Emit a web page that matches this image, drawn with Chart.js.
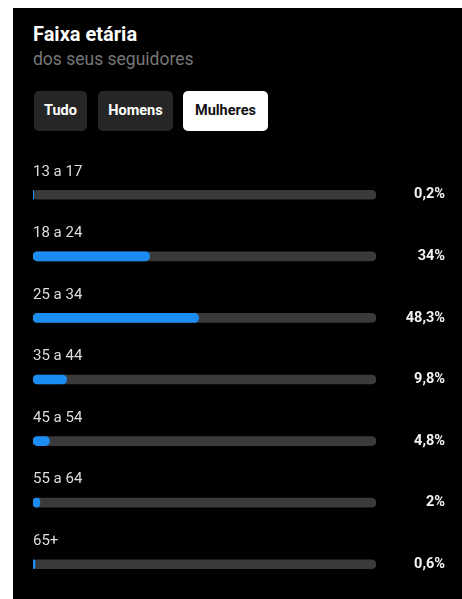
<!DOCTYPE html>
<html>
<head>
<meta charset="utf-8">
<script src="https://cdn.jsdelivr.net/npm/chart.js@4"></script>
<style>
  body { margin: 0; background: #fff; font-family: Roboto, "Noto Sans", sans-serif; }
  #panel { position: absolute; left: 13px; top: 8px; width: 449px; height: 591px; background: #000; }
  #title { position: absolute; left: 20px; top: 16px; line-height: 20px; color: #fff; font-size: 20px; font-weight: 700; }
  #sub { position: absolute; left: 20px; top: 42px; line-height: 18px; color: #777; font-size: 17.5px; }
  .btn { position: absolute; top: 83px; height: 40px; line-height: 40px; border-radius: 5px;
         background: #262626; color: #fff; font-size: 14.5px; font-weight: 700; text-align: center; }
  #wrap { position: absolute; left: 0; top: 142px; width: 449px; height: 449px; }
</style>
</head>
<body>
<div id="panel">
  <div id="title">Faixa etária</div>
  <div id="sub">dos seus seguidores</div>
  <div class="btn" style="left:21px;width:53px">Tudo</div>
  <div class="btn" style="left:85px;width:75px">Homens</div>
  <div class="btn" style="left:170px;width:85px;background:#fff;color:#111">Mulheres</div>
  <div id="wrap"><canvas id="chart1"></canvas></div>
</div>
<script>
//=============== data ===============
const faixas = ['13 a 17', '18 a 24', '25 a 34', '35 a 44', '45 a 54', '55 a 64', '65+'];
const percent = [0.2, 34, 48.3, 9.8, 4.8, 2, 0.6];
const percentText = ['0,2%', '34%', '48,3%', '9,8%', '4,8%', '2%', '0,6%'];
const track = [100, 100, 100, 100, 100, 100, 100];
//====================================

// labels above the bars + percentage on the right
const labelPlugin = {
	id: 'labelPlugin',
	afterDatasetsDraw(chart) {
		const ctx = chart.ctx;
		const yScale = chart.scales.y;
		const left = chart.chartArea.left;
		ctx.save();
		ctx.textBaseline = 'middle';
		faixas.forEach((f, i) => {
			let y = yScale.getPixelForValue(i);
			ctx.fillStyle = '#dedede';
			ctx.font = '15px Roboto';
			ctx.textAlign = 'left';
			ctx.fillText(f, left, y - 23);
			ctx.fillStyle = '#f2f2f2';
			ctx.font = 'bold 14.5px Roboto';
			ctx.textAlign = 'right';
			ctx.fillText(percentText[i], 432, y);
		});
		ctx.restore();
	}
};

const ctx = document.getElementById('chart1').getContext('2d');
const myChart = new Chart(ctx, {
	type: 'bar',
	data: {
		labels: faixas,
		datasets: [
			{
				label: 'Mulheres',
				data: percent,
				backgroundColor: '#1a8cf2',
				barThickness: 9,
				borderRadius: 5,
				borderSkipped: false,
				grouped: false,
				order: 0
			},
			{
				label: 'total',
				data: track,
				backgroundColor: '#3a3a3a',
				barThickness: 9,
				borderRadius: 5,
				borderSkipped: false,
				grouped: false,
				order: 1
			}
		]
	},
	options: {
		indexAxis: 'y',
		responsive: true,
		maintainAspectRatio: false,
		animation: false,
		layout: { padding: { left: 20, right: 86, top: 14, bottom: 4 } },
		plugins: {
			legend: { display: false },
			tooltip: { enabled: false }
		},
		scales: {
			x: { display: false, min: 0, max: 100 },
			y: { display: false, offset: true }
		}
	},
	plugins: [labelPlugin]
});
</script>
</body>
</html>
